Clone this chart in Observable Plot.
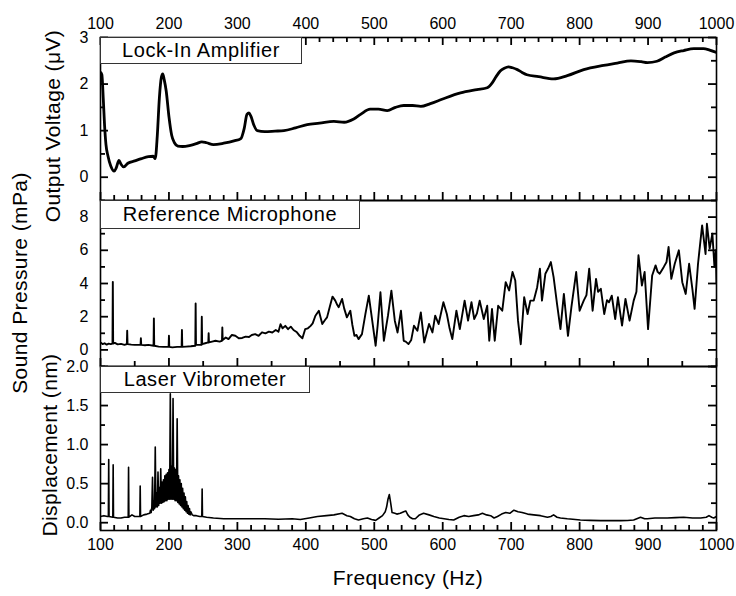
<!DOCTYPE html>
<html><head><meta charset="utf-8">
<script src="https://cdn.jsdelivr.net/npm/d3@7"></script>
<script src="https://cdn.jsdelivr.net/npm/@observablehq/plot@0.6"></script>
<style>
body{margin:0;background:#fff;}
#chart{position:relative;width:736px;height:596px;background:#fff;font-family:"Liberation Sans",Arial,sans-serif;color:#000;}
#chart svg{position:absolute;left:0;top:0;}
.box{position:absolute;box-sizing:border-box;border:1px solid #333;background:#fff;font-size:20px;letter-spacing:0.6px;display:flex;align-items:center;justify-content:center;white-space:nowrap;}
.ytitle{position:absolute;font-size:21px;letter-spacing:0.4px;white-space:nowrap;transform:translate(-50%,-50%) rotate(-90deg);}
.xtitle{position:absolute;font-size:21px;letter-spacing:0.4px;white-space:nowrap;transform:translate(-50%,-50%);}
</style></head><body><div id="chart"></div>
<script>
// ---- Lock-In Amplifier (output voltage, µV) ----
const lockFreq = [100,102,104,106,108,111,115,120,123,127,130,134,140,150,160,170,177,180,183,186,189,191,193,196,200,204,208,213,220,230,240,248,255,265,280,295,305,310,314,317,320,324,329,340,355,368,385,402,420,441,456,470,480,494,506,519,531,543,556,568,582,600,626,650,665,672,678,684,690,696,702,709,716,723,740,762,782,806,835,855,875,890,899,913,925,938,952,967,981,990,1000];
const lockVolt = [2.25,2.2,1.7,1.1,0.7,0.45,0.24,0.13,0.2,0.36,0.28,0.22,0.3,0.35,0.4,0.44,0.45,0.4,0.9,1.7,2.15,2.22,2.1,1.85,1.3,0.9,0.74,0.67,0.66,0.68,0.72,0.76,0.74,0.7,0.73,0.78,0.83,1.05,1.35,1.38,1.3,1.12,1.0,0.98,0.99,1.0,1.06,1.13,1.16,1.2,1.18,1.25,1.35,1.46,1.46,1.43,1.5,1.54,1.54,1.52,1.58,1.68,1.81,1.88,1.92,2.02,2.16,2.28,2.34,2.37,2.35,2.31,2.25,2.2,2.16,2.11,2.18,2.31,2.4,2.45,2.5,2.48,2.46,2.49,2.58,2.67,2.72,2.76,2.76,2.73,2.68];

// ---- Reference Microphone (sound pressure, mPa) ----
const micFreq = [100,103,106,109,112,115,117.5,118,118.5,121,125,130,135,138.5,139,139.5,145,150,155,158.5,159,159.5,165,170,177.5,178,178.5,185,192,199.5,200,200.5,205,212,218.5,219,219.5,225,232,238.5,239,239.5,244,247.5,248,248.5,253,257.5,258,258.5,263,268,274,277.5,278,278.5,283,287,292,297,302,307,312,317,321,326,331,336,341,346,351,356,360,363,366,370,374,378,382,387,391,395,399,403,407,410,414,419,424,428,431,435,439,443,446,448,453,456,460,465,468,471,474,477,482,487,492,497,502,505,509,514,520,525,530,534,539,543,546,550,554,558,563,568,573,580,585,589,594,601,606,610,614,620,625,632,637,642,646,650,654,660,665,668,672,676,681,687,692,697,702,706,710,714,719,724,728,733,738,742,745,750,754,758,762,767,772,777,783,788,795,800,806,810,814,819,824,827,831,836,840,843,847,852,856,862,867,873,879,883,886,891,895,900,906,911,914,917,923,927,930,934,939,945,950,955,960,965,968,973,979,984,986,990,994,997,999,1000];
const micPress = [0.45,0.35,0.4,0.32,0.38,0.35,0.38,4.1,0.38,0.42,0.33,0.36,0.3,0.35,1.15,0.35,0.32,0.3,0.3,0.3,0.7,0.3,0.28,0.3,0.25,1.9,0.25,0.2,0.18,0.18,0.85,0.18,0.15,0.18,0.18,1.2,0.18,0.2,0.22,0.25,2.8,0.3,0.3,0.3,2.0,0.35,0.4,0.45,1.0,0.45,0.5,0.55,0.5,0.55,1.35,0.6,0.75,0.65,0.9,0.85,0.7,0.72,0.8,0.78,0.9,0.95,0.85,1.06,1.0,1.1,1.05,1.2,1.1,1.55,1.3,1.45,1.25,1.4,1.2,1.06,0.85,0.7,1.25,1.3,1.45,1.6,2.06,2.36,1.56,1.8,1.96,2.6,3.21,2.97,2.7,2.57,3.07,2.5,1.96,2.36,1.5,0.85,0.9,0.65,0.95,2.16,3.27,1.76,0.25,1.5,3.47,0.55,2.06,3.57,1.76,1.05,2.36,0.55,0.5,0.35,0.6,1.46,1.15,2.26,0.45,1.56,1.05,2.06,1.56,2.87,2.16,1.3,0.65,2.36,1.25,2.97,1.76,2.87,1.86,2.2,2.97,1.86,2.66,0.55,2.46,0.55,2.66,2.36,4.08,3.58,4.69,4.18,1.76,0.34,3.17,2.16,2.97,2.97,3.78,4.89,2.97,4.59,4.9,5.29,4.38,2.77,1.25,3.37,0.85,2.57,4.69,2.36,2.97,3.3,4.89,2.36,4.28,3.5,3.68,2.16,3.0,2.87,3.27,1.86,3.17,1.46,3.07,1.76,2.97,3.5,5.7,3.88,4.69,1.25,4.48,5.09,4.7,4.59,5.0,5.3,6.2,4.28,5.19,6.0,4.08,3.37,5.19,3.58,2.47,5.19,7.5,5.78,7.6,6.1,7.0,5.0,6.0,4.0];

// ---- Laser Vibrometer (displacement, nm) ----
const vibFreq = [100,105,110,111.5,112,112.5,118,118.5,119,125,130,135,140.5,141,141.5,146,150,157.5,158,158.5,163,168,
  172,173,174,175,176,177,178,179,180,181,182,183,184,185,186,187,188,189,190,191,192,193,194,195,196,197,198,199,200,201,202,203,204,205,206,207,208,209,210,211,212,213,214,215,216,217,218,219,220,221,222,223,224,225,226,227,228,229,230,231,232,234,236,
  240,245,248,248.5,249,255,265,280,300,320,340,360,380,392,405,417,430,441,453,460,465,471,477,484,490,496,502,507,512,516,518,520,522,524,526,530,533,538,543,546,549,552,556,560,566,572,580,587,595,602,609,616,624,631,638,645,652,658,664,670,675,680,686,692,698,704,710,716,724,733,743,753,758,762,767,772,782,790,801,815,831,845,860,870,879,889,895,899,910,928,940,952,965,977,985,989,993,996,1000];
const vibDisp = [0.08,0.09,0.08,0.08,0.81,0.08,0.07,0.74,0.07,0.06,0.06,0.07,0.07,0.71,0.07,0.1,0.08,0.08,0.47,0.08,0.1,0.11,
  0.12,0.16,0.13,0.2,0.58,0.16,0.28,0.18,0.97,0.2,0.38,0.2,0.65,0.22,0.45,0.25,0.69,0.25,0.52,0.26,0.55,0.27,0.6,0.28,0.62,0.28,0.64,0.3,0.68,0.3,1.65,0.3,0.72,0.3,1.59,0.3,0.7,0.28,0.68,0.28,1.33,0.26,0.6,0.24,0.55,0.22,0.5,0.2,0.44,0.18,0.38,0.16,0.33,0.14,0.27,0.12,0.22,0.11,0.18,0.1,0.14,0.1,0.09,
  0.09,0.08,0.08,0.43,0.08,0.07,0.06,0.05,0.05,0.05,0.05,0.045,0.05,0.04,0.06,0.08,0.09,0.1,0.12,0.09,0.08,0.05,0.034,0.05,0.06,0.04,0.03,0.06,0.09,0.14,0.2,0.3,0.36,0.25,0.13,0.12,0.11,0.12,0.14,0.15,0.1,0.07,0.05,0.05,0.1,0.12,0.1,0.08,0.06,0.05,0.04,0.034,0.07,0.09,0.08,0.09,0.1,0.12,0.1,0.09,0.06,0.08,0.11,0.13,0.12,0.16,0.14,0.13,0.11,0.1,0.09,0.07,0.08,0.1,0.07,0.06,0.05,0.045,0.034,0.03,0.026,0.026,0.026,0.028,0.034,0.07,0.05,0.05,0.06,0.06,0.065,0.07,0.06,0.06,0.07,0.09,0.07,0.06,0.08];

// ---- tick values ----
const xMajor = [100,200,300,400,500,600,700,800,900,1000];
const xMinor20 = [120,140,160,180,220,240,260,280,320,340,360,380,420,440,460,480,520,540,560,580,620,640,660,680,720,740,760,780,820,840,860,880,920,940,960,980];
const xMinor50 = [150,250,350,450,550,650,750,850,950];
const lockMajor = [0,1,2,3], lockMinor = [-0.5,0.5,1.5,2.5];
const micMajor = [0,2,4,6,8], micMinor = [-1,1,3,5,7];
const vibMajor = [0,0.5,1.0,1.5,2.0], vibMinor = [0.25,0.75,1.25,1.75];

const W = 736, H = 596, L = 100, R = 20;
const X0 = 100, X1 = 1000;
const chart = document.getElementById("chart");

function panel({pTop, pBottom, yDomain, freq, vals, yMajor, yMinor, yFmt, sw, curve, topTicks, bottomMinor, xAxis}) {
  const ph = pBottom - pTop, pw = W - L - R;
  const kx = pw / (X1 - X0), ky = ph / (yDomain[1] - yDomain[0]);
  const rows = freq.map((f, i) => ({f, v: vals[i]}));
  const MJ = 8, MN = 5;
  const tk = {stroke: "black", strokeWidth: 1.8};
  const marks = [
    Plot.line(rows, {x: "f", y: "v", stroke: "black", strokeWidth: sw, curve, clip: true, strokeLinejoin: "round"}),
    // y ticks on left and right edges, pointing inward
    Plot.ruleY(yMajor, {y: d => d, x1: X0, x2: X0 + MJ / kx, ...tk}),
    Plot.ruleY(yMinor, {y: d => d, x1: X0, x2: X0 + MN / kx, ...tk}),
    Plot.ruleY(yMajor, {y: d => d, x1: X1 - MJ / kx, x2: X1, ...tk}),
    Plot.ruleY(yMinor, {y: d => d, x1: X1 - MN / kx, x2: X1, ...tk}),
    // x ticks on the bottom edge, pointing up
    Plot.ruleX(xMajor, {x: d => d, y1: yDomain[0], y2: yDomain[0] + MJ / ky, ...tk}),
    Plot.ruleX(bottomMinor, {x: d => d, y1: yDomain[0], y2: yDomain[0] + MN / ky, ...tk}),
    Plot.axisY({ticks: yMajor, tickSize: 0, tickPadding: 12, tickFormat: yFmt, fontSize: 16, label: null}),
    Plot.frame({stroke: "black", strokeWidth: 1.6})
  ];
  if (topTicks) {
    marks.push(Plot.ruleX(xMajor, {x: d => d, y1: yDomain[1] - MJ / ky, y2: yDomain[1], ...tk}));
    marks.push(Plot.ruleX(xMinor20, {x: d => d, y1: yDomain[1] - MN / ky, y2: yDomain[1], ...tk}));
  }
  if (xAxis) marks.push(Plot.axisX({anchor: xAxis, ticks: xMajor, tickSize: 0, tickPadding: xAxis === "top" ? 9 : 8, fontSize: 16, tickFormat: d => String(d), label: null}));
  const svg = Plot.plot({
    width: W, height: H,
    marginLeft: L, marginRight: R, marginTop: pTop, marginBottom: H - pBottom,
    style: {background: "transparent", fontFamily: "Liberation Sans, Arial, sans-serif", fontSize: "16px", color: "black"},
    x: {domain: [X0, X1], ...(xAxis ? {} : {axis: null})},
    y: {domain: yDomain},
    marks
  });
  chart.appendChild(svg);
}

panel({pTop: 37, pBottom: 200, yDomain: [-0.5, 3], freq: lockFreq, vals: lockVolt, yMajor: lockMajor, yMinor: lockMinor, yFmt: d3.format("d"), sw: 2.8, curve: "monotone-x", topTicks: true, bottomMinor: xMinor20, xAxis: "top"});
panel({pTop: 200, pBottom: 366, yDomain: [-1, 9], freq: micFreq, vals: micPress, yMajor: micMajor, yMinor: micMinor, yFmt: d3.format("d"), sw: 1.9, curve: "linear", topTicks: false, bottomMinor: xMinor50, xAxis: null});
panel({pTop: 366, pBottom: 530, yDomain: [-0.1, 2.0], freq: vibFreq, vals: vibDisp, yMajor: vibMajor, yMinor: vibMinor, yFmt: d3.format(".1f"), sw: 1.6, curve: "linear", topTicks: false, bottomMinor: xMinor20, xAxis: "bottom"});

function addDiv(cls, text, css) {
  const d = document.createElement("div");
  d.className = cls; d.textContent = text;
  Object.assign(d.style, css);
  chart.appendChild(d);
}
addDiv("box", "Lock-In Amplifier", {left: "100px", top: "37px", width: "202px", height: "27px"});
addDiv("box", "Reference Microphone", {left: "100px", top: "200px", width: "260px", height: "29px"});
addDiv("box", "Laser Vibrometer", {left: "100px", top: "366px", width: "210px", height: "27px"});
addDiv("ytitle", "Output Voltage (μV)", {left: "53px", top: "126px"});
addDiv("ytitle", "Sound Pressure (mPa)", {left: "20px", top: "283px"});
addDiv("ytitle", "Displacement (nm)", {left: "50px", top: "445px"});
addDiv("xtitle", "Frequency (Hz)", {left: "408px", top: "578px"});
</script></body></html>
